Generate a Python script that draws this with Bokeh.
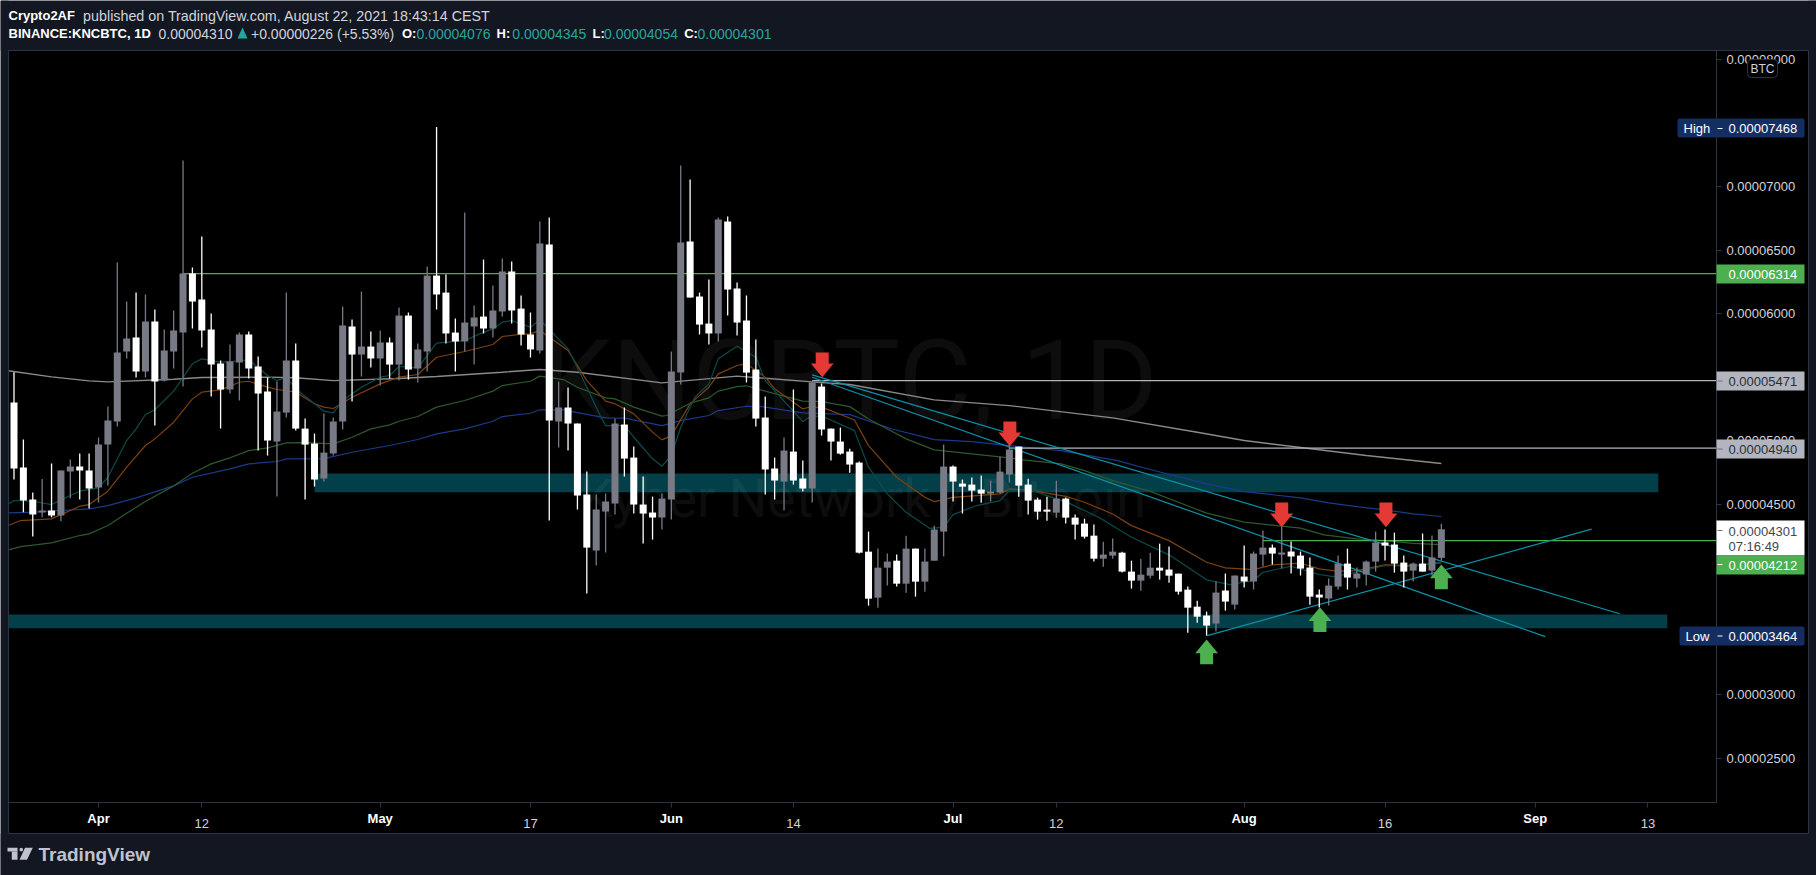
from bokeh.plotting import figure
from bokeh.embed import file_html
from bokeh.resources import INLINE
from bokeh.core.properties import value
from bokeh.models import BoxAnnotation, Label, PolyAnnotation, FixedTicker, ColumnDataSource

# ---------- values (price in 1e-8 BTC, day = days after 1 Apr 2021) ----------
first_day = -9
open_ = [5299,4787,4535,4433,4449,4409,4756,4795,4764,
 4630,4968,5150,5701,5811,5543,5937,5472,5701,5850,
 6315,6110,5874,5606,5402,5614,5835,5583,5386,4992,
 5220,5630,5094,4976,4701,4898,5150,5898,5677,5740,
 5646,5772,5598,5984,5567,5701,6299,6165,5850,5780,
 5898,5976,5882,6016,6331,6039,5835,5709,6543,5150,
 5260,5134,4575,4134,4441,4504,5126,4866,4496,4433,
 4394,4535,5535,6567,6134,5921,5843,6725,6197,5945,
 5559,5181,4780,4677,4913,4701,4622,5425,5094,4992,
 4913,4826,4125,3763,3999,4054,3873,4149,3889,4054,
 4283,4795,4661,4653,4614,4582,4590,4732,4952,4653,
 4535,4456,4432,4543,4393,4346,4251,4070,4094,4117,
 3968,3897,3936,3999,3984,3952,3826,3692,3622,3559,
 3819,3708,3929,3890,4102,4157,4102,4126,4094,4000,
 3787,3756,3850,4031,3913,3945,4047,4197,4181,4039,
 3976,4031,3976,4076]
close = [4780,4527,4417,4449,4409,4764,4795,4764,4622,
 4968,5157,5693,5803,5543,5937,5465,5709,5866,6315,
 6095,5866,5598,5402,5622,5835,5567,5370,5000,5228,
 5630,5094,4968,4693,4905,5150,5906,5677,5740,5646,
 5772,5598,5984,5559,5717,6299,6150,5843,5780,5929,
 5969,5882,6024,6331,6024,5835,5717,6551,5157,5260,
 5134,4567,4157,4457,4520,5134,4858,4496,4425,4394,
 4543,5543,6559,6126,5913,5843,6740,6189,5929,5535,
 5173,4772,4685,4921,4685,4622,5457,5087,4992,4897,
 4811,4117,3755,3999,4047,3873,4149,3889,4047,4299,
 4795,4677,4637,4606,4582,4598,4755,4929,4645,4527,
 4440,4440,4543,4393,4338,4243,4070,4102,4125,3968,
 3897,3944,3999,3976,3936,3810,3684,3613,3543,3803,
 3732,3937,3890,4110,4157,4110,4118,4087,3992,3771,
 3764,3858,4031,3921,3953,4047,4197,4173,4031,3968,
 4031,3968,4079,4301]
high = [5538,5008,4590,4698,4819,4764,4850,4898,4898,
 5024,5268,6402,6095,6165,6150,6032,5874,6024,7205,
 6362,6606,6000,5630,5756,5850,5858,5661,5496,5465,
 6165,5764,5173,5055,5213,5181,6055,5953,6173,5858,
 5866,5811,6047,6008,5764,6370,7468,6307,5961,6795,
 6063,6425,6221,6433,6410,6142,6008,6725,6756,5465,
 5417,5134,4756,4575,4583,5173,5260,4953,4716,4559,
 4583,5701,7166,7055,6165,6268,6756,6764,6244,6142,
 5795,5346,4866,5024,5402,4842,5465,5449,5094,5102,
 4936,4834,4283,4149,4110,4102,4251,4149,4149,4330,
 4968,4803,4692,4708,4724,4684,4873,5102,4952,4700,
 4551,4558,4684,4551,4417,4385,4338,4204,4228,4125,
 4054,4070,4117,4188,4165,3952,3850,3739,3653,3890,
 3953,3937,4173,4126,4291,4181,4323,4205,4126,4079,
 3827,3913,4094,4149,4000,4055,4283,4299,4275,4094,
 4039,4268,4252,4345]
low = [4693,4436,4244,4396,4396,4365,4546,4535,4464,
 4512,4646,5110,5646,5496,5496,5118,5465,5567,5425,
 5882,5732,5346,5094,5370,5315,5488,4921,4882,4559,
 5181,5079,4535,4638,4677,4882,5087,5307,5504,5575,
 5433,5488,5472,5480,5457,5543,6032,5764,5543,5701,
 5598,5843,5811,5976,5921,5748,5654,5685,4370,4945,
 4921,4457,3795,4016,4118,4417,4716,4425,4189,4220,
 4299,4378,5441,6126,5835,5756,5780,5984,5827,5457,
 5110,4575,4535,4449,4653,4598,4512,5039,4842,4889,
 4747,4110,3700,3684,3858,3850,3802,3771,3810,4054,
 4086,4519,4425,4519,4511,4519,4582,4669,4558,4417,
 4377,4369,4393,4346,4220,4228,4047,4007,4070,3960,
 3834,3818,3913,3905,3881,3787,3487,3566,3464,3496,
 3661,3669,3842,3827,4008,4024,3992,3953,3937,3708,
 3685,3701,3827,3827,3842,3858,3968,4055,3960,3842,
 3890,3968,3937,4054]

ma_gray_d = [-9.6,-5,-1,1,8,11,18,21,25,32,36,43,47,51,60,68,76,80,89,97,108,117,122,135,143]
ma_gray_v = [5549,5501,5470,5462,5483,5496,5499,5494,5472,5488,5504,5538,5559,5538,5454,5507,5462,5441,5320,5275,5178,5065,5000,4882,4819]

ma_orange_d = [-9.6,-8.3,-5,-2,-1,1,3,5,6,8,10,11,13,15,16,18,19,21,23,24,25,27,30,32,34,36,39,42,43,45,46,47,50,52,54,55,57,59,60,61,63,65,66,68,69,71,72,75,76,77.5,80.5,82,85,88,89,91,96,97,99,103,105,108,110,114,118,120,123,125,128,130,132,134,137,140,143]
ma_orange_v = [4331,4370,4383,4483,4496,4601,4790,4961,5013,5144,5328,5381,5399,5459,5467,5420,5402,5381,5289,5263,5252,5341,5446,5499,5520,5656,5701,5756,5819,5837,5840,5866,5709,5472,5310,5289,5210,5066,5005,5039,5289,5420,5525,5591,5604,5499,5407,5249,5268,5249,5162,4960,4711,4553,4519,4553,4580,4619,4611,4561,4514,4422,4330,4212,4042,3997,3984,4021,4034,3989,3971,3976,4021,4016,4037]

ma_teal_d = [-9.6,-9,-7,-5,-3,-2,0,1,3,4,5,6,8,10,11,13,15,16,18,19,20,21,23,24,25,26,28,30,31,32,34,36,39,40.6,42,43,44,46,47,50,51.5,53.5,54,56,57,59,60,61,62,63.5,65,66,68,70,71,75,76,77.5,80.5,82,84,86,88.5,90,91,93.5,96,97,99.5,103.5,106.5,110,114,118,120.5,123,124,127,130,131.5,134,137,140,143]
ma_teal_v = [4501,4528,4522,4496,4567,4601,4627,4711,5000,5092,5205,5242,5389,5604,5643,5617,5625,5638,5512,5472,5499,5407,5289,5231,5218,5315,5420,5499,5512,5583,5572,5767,5788,5840,5879,5932,5945,5892,5950,5722,5499,5184,5118,5118,5026,4856,4798,4882,5105,5341,5446,5643,5743,5656,5472,5150,5197,5178,5078,4790,4580,4435,4309,4317,4417,4488,4527,4606,4606,4501,4396,4238,4100,3903,3866,3898,3963,4010,3945,3929,3963,4016,4008,4042]

ma_green_d = [-9.6,-8.3,-5,-2,-1,1,3,5,8,10,12,14,16,18,20,22,25,27,29,31,32,34,36,39,42,43,46,47,49.5,51,54,55,57,60,60.5,63,65,66,68,69,71,75,77,80,82,86,89,93,97,98.5,102.5,105,108,112,115,118,122,128,130.5,134,137,140,143]
ma_green_v = [4139,4165,4194,4252,4265,4331,4428,4520,4643,4743,4816,4864,4921,4942,4982,4984,4974,5026,5092,5123,5152,5189,5263,5315,5389,5433,5467,5507,5480,5420,5336,5328,5263,5192,5197,5294,5336,5389,5425,5431,5389,5310,5307,5267,5170,5013,4926,4895,4863,4847,4816,4763,4684,4600,4514,4428,4357,4310,4257,4226,4212,4191,4181]

ma_blue_d = [-9.6,-7,-4,-1,1,4,8,10,14,16,19,20,24,27,31,34,36,39,42,43,46,47,49.5,51,54,56,60,62,65,66,69,70.5,75,80,84.5,89,93,97,102.5,108.5,112,118,122,128,131,134,137,140,143]
ma_blue_v = [4430,4436,4449,4462,4488,4549,4643,4711,4777,4816,4835,4856,4858,4908,4961,5008,5052,5092,5152,5189,5215,5242,5242,5220,5179,5176,5118,5157,5197,5236,5270,5268,5218,5204,5091,5007,4992,4960,4921,4842,4772,4659,4598,4548,4509,4480,4454,4422,4402]

zone_left = [23, -9.6]
zone_right = [166.1, 167.06]
zone_top = [4740, 3630]
zone_bottom = [4593, 3522]

ray_price = [6314, 5471, 4940, 4212]
ray_start = [9, 76, 97, 124]
ray_color = ["#4caf50", "#b2b5be", "#b2b5be", "#4caf50"]

trend_d0 = [76, 76, 118.07]
trend_p0 = [5517, 5498, 3464]
trend_d1 = [162, 154.06, 159]
trend_p1 = [3636, 3456, 4302]

red_day = [77.07, 97.05, 126.0, 137.1]
red_tip = [5498, 4955, 4318, 4318]
green_day = [118.0, 130.07, 143.0]
green_tip = [3433, 3687, 4023]

x_tick_days = [11, 46, 74, 102, 137, 165]
x_tick_text = ["12", "17", "14", "12", "16", "13"]
month_days = [0, 30, 61, 91, 122, 153]
month_text = ["Apr", "May", "Jun", "Jul", "Aug", "Sep"]
y_ticks = [2500, 3000, 4500, 5000, 6000, 6500, 7000, 8000]

# ---------- figures ----------
PX_DAY, PX_PRICE = 9.39, 0.127
XR = (-9.585, 172.3)
YR = (2150, 8071)
PANEL, BG, LINE = "#131722", "#000000", "#2a3543"
FONT = "Liberation Sans"

p = figure(width=1816, height=875, x_range=XR, y_range=YR, toolbar_location=None,
           output_backend="svg", frame_width=1708, frame_height=752,
           min_border_left=8, min_border_top=50, min_border_right=100, min_border_bottom=73,
           border_fill_color=BG, background_fill_color=BG, outline_line_color=LINE,
           y_axis_location="right")
p.grid.visible = False

# transparent page-sized sheet on top of the chart, for header, price badges and logo
o = figure(width=1816, height=875, x_range=(0, 1816), y_range=(875, 0), toolbar_location=None,
           output_backend="svg", min_border=0, x_axis_location=None, y_axis_location=None,
           border_fill_alpha=0, background_fill_alpha=0, outline_line_color=None,
           styles={"position": "absolute", "left": "0px", "top": "0px"})
o.grid.visible = False

def box(x0, y0, x1, y1, color, line=None, radius=0, alpha=1):
    o.add_layout(BoxAnnotation(left=x0, right=x1, top=y0, bottom=y1,
                      left_units="canvas", right_units="canvas", top_units="canvas", bottom_units="canvas",
                      fill_color=color, fill_alpha=alpha, line_color=line, line_alpha=1 if line else 0,
                      border_radius=radius, editable=False))

def lab(x, y, text, color="#d1d4dc", size=14, style="normal", align="left"):
    o.add_layout(Label(x=x, y=y, x_units="canvas", y_units="canvas", text=text, text_color=color,
                       text_font=FONT, text_font_size=f"{size}px", text_font_style=style,
                       text_align=align, text_baseline="middle"))

# page bands around the black chart pane
box(0, 0, 1816, 50, PANEL)
box(0, 833, 1816, 875, PANEL)
box(0, 0, 8, 875, PANEL)
box(1808, 0, 1816, 875, PANEL)
box(8, 50, 1808, 833, BG, line=LINE, alpha=0)

# axes
xa = p.xaxis[0]
xa.ticker = FixedTicker(ticks=x_tick_days + month_days)
xa.major_label_overrides = {**{d: t for d, t in zip(x_tick_days, x_tick_text)}, **{d: " " for d in month_days}}
xa.major_tick_out, xa.major_tick_in, xa.minor_tick_out, xa.minor_tick_in = 5, 0, 0, 0
xa.axis_line_color, xa.major_tick_line_color = LINE, LINE
xa.major_label_text_color = "#d1d4dc"
xa.major_label_text_font, xa.major_label_text_font_size = FONT, "13px"
xa.major_label_standoff = 8

ya = p.yaxis[0]
ya.ticker = FixedTicker(ticks=y_ticks)
ya.major_label_overrides = {t: f"{t*1e-8:.8f}" for t in y_ticks}
ya.major_tick_out, ya.major_tick_in, ya.minor_tick_out, ya.minor_tick_in = 5, 0, 0, 0
ya.axis_line_color, ya.major_tick_line_color = LINE, LINE
ya.major_label_text_color = "#d1d4dc"
ya.major_label_text_font, ya.major_label_text_font_size = FONT, "13px"
ya.major_label_standoff = 5

# zones
p.quad(left=zone_left, right=zone_right, top=zone_top, bottom=zone_bottom, fill_color="#033f48", line_color=None)

# watermark
p.text(x=[80.0], y=[5470], text=["KNCBTC, 1D"], text_color="#ffffff", text_alpha=0.05,
       text_font=value("Roboto"), text_font_size="112px", text_align="center", text_baseline="middle")
p.text(x=[81.4], y=[4540], text=["Kyber Network / Bitcoin"], text_color="#ffffff", text_alpha=0.05,
       text_font=value("Roboto"), text_font_size="54px", text_align="center", text_baseline="middle")

# moving averages
for d, v, c, w in [(ma_gray_d, ma_gray_v, "#8a8a8a", 1.4), (ma_blue_d, ma_blue_v, "#1b3a8c", 1.2),
                   (ma_green_d, ma_green_v, "#2c5a2c", 1.2), (ma_orange_d, ma_orange_v, "#7c410f", 1.2),
                   (ma_teal_d, ma_teal_v, "#0c4b4b", 1.2)]:
    p.line(d, v, line_color=c, line_width=w)

# drawn rays and trend lines
p.segment(x0=ray_start, y0=ray_price, x1=[XR[1]]*len(ray_price), y1=ray_price, line_color=ray_color, line_width=1.2)
p.segment(x0=trend_d0, y0=trend_p0, x1=trend_d1, y1=trend_p1, line_color="#0a93a8", line_width=1.2)

# candles
days = [first_day + i for i in range(len(open_))]
colors = ["#787b86" if c >= o_ else "#ffffff" for o_, c in zip(open_, close)]
src = ColumnDataSource(dict(day=days, high=high, low=low, top=[max(a, c) for a, c in zip(open_, close)],
                            bottom=[min(a, c) for a, c in zip(open_, close)], color=colors))
p.segment(x0="day", y0="low", x1="day", y1="high", line_color="color", line_width=1.3, source=src)
p.vbar(x="day", width=7/PX_DAY, top="top", bottom="bottom", fill_color="color", line_color=None, source=src)

# arrows
def arrow(day, tip, sign):
    hw, sw, hh, total = 11.4/PX_DAY, 6.5/PX_DAY, 13.7/PX_PRICE, 24.7/PX_PRICE
    xs = [day, day-hw, day-sw, day-sw, day+sw, day+sw, day+hw]
    ys = [tip, tip+sign*hh, tip+sign*hh, tip+sign*total, tip+sign*total, tip+sign*hh, tip+sign*hh]
    return xs, ys
for days_, tips, sign, col in [(red_day, red_tip, 1, "#e53935"), (green_day, green_tip, -1, "#4caf50")]:
    shapes = [arrow(d, t, sign) for d, t in zip(days_, tips)]
    p.patches([s[0] for s in shapes], [s[1] for s in shapes], fill_color=col, line_color=None)

# month labels (bold) on the date axis
for d, t in zip(month_days, month_text):
    lab(98 + PX_DAY*d, 818, t, color="#ffffff", size=13, style="bold", align="center")

# price badges
NAVY = "#142e61"
box(1677, 118, 1804, 137, NAVY, radius=2)
box(1679, 626, 1804, 645, NAVY, radius=2)
box(1716, 264, 1804, 283, "#4caf50")
box(1716, 371, 1804, 390, "#b2b5be")
box(1716, 439, 1804, 458, "#b2b5be")
box(1716, 520, 1804, 555, "#ffffff")
box(1716, 555, 1804, 574, "#4caf50")
for y, c in [(128, "#ffffff"), (635.5, "#ffffff"), (380.5, "#6b6f7a"), (448.5, "#6b6f7a"), (530, "#6b6f7a"), (564, "#ffffff")]:
    box(1717, y-0.5, 1722, y+0.5, c)
lab(1683, 127.5, "High", "#ffffff", 13)
lab(1685, 635.5, "Low", "#ffffff", 13)
lab(1728, 128, "0.00007468", "#ffffff", 13)
lab(1728, 635.5, "0.00003464", "#ffffff", 13)
lab(1728, 274, "0.00006314", "#ffffff", 13)
lab(1728, 381, "0.00005471", "#2a2e39", 13)
lab(1728, 449, "0.00004940", "#2a2e39", 13)
lab(1728, 530.5, "0.00004301", "#434651", 13)
lab(1728, 546, "07:16:49", "#434651", 13)
lab(1728, 565, "0.00004212", "#ffffff", 13)
box(1747, 59, 1777, 77, "#000000", line=LINE, radius=4)
lab(1762, 68, "BTC", "#d1d4dc", 12, align="center")

# header
lab(8, 15, "Crypto2AF", "#ffffff", 13, "bold")
lab(82.6, 15, "published on TradingView.com, August 22, 2021 18:43:14 CEST", "#d1d4dc", 14.3)
lab(8, 33, "BINANCE:KNCBTC, 1D", "#ffffff", 13, "bold")
lab(158, 33, "0.00004310", "#d1d4dc", 14)
lab(250.5, 33, "+0.00000226 (+5.53%)", "#d1d4dc", 14)
TEAL = "#26a69a"
o.add_layout(PolyAnnotation(xs=[237, 247, 242], ys=[38, 38, 27], xs_units="canvas", ys_units="canvas",
                            fill_color=TEAL, fill_alpha=1, line_color=None, editable=False))
for x, t in [(401.5, "O:"), (496, "H:"), (592, "L:"), (683.7, "C:")]:
    lab(x, 33, t, "#ffffff", 13, "bold")
for x, t in [(416, "0.00004076"), (511.7, "0.00004345"), (603.5, "0.00004054"), (697, "0.00004301")]:
    lab(x, 33, t, TEAL, 14)

# TradingView logo
LOGO = "#c0c3cc"
box(7, 847.3, 17, 851, LOGO)
box(11.3, 851, 17, 859.3, LOGO)
o.add_layout(PolyAnnotation(xs=[24.5, 32.3, 26.5, 19], ys=[847.3, 847.3, 859.3, 859.3],
                            xs_units="canvas", ys_units="canvas", fill_color=LOGO, fill_alpha=1, line_color=None,
                            editable=False))
box(19, 847.3, 22.5, 851, LOGO, radius=2)
lab(38, 854, "TradingView", LOGO, 19, "bold")

open("out.html", "w").write(file_html((p, o), INLINE))
